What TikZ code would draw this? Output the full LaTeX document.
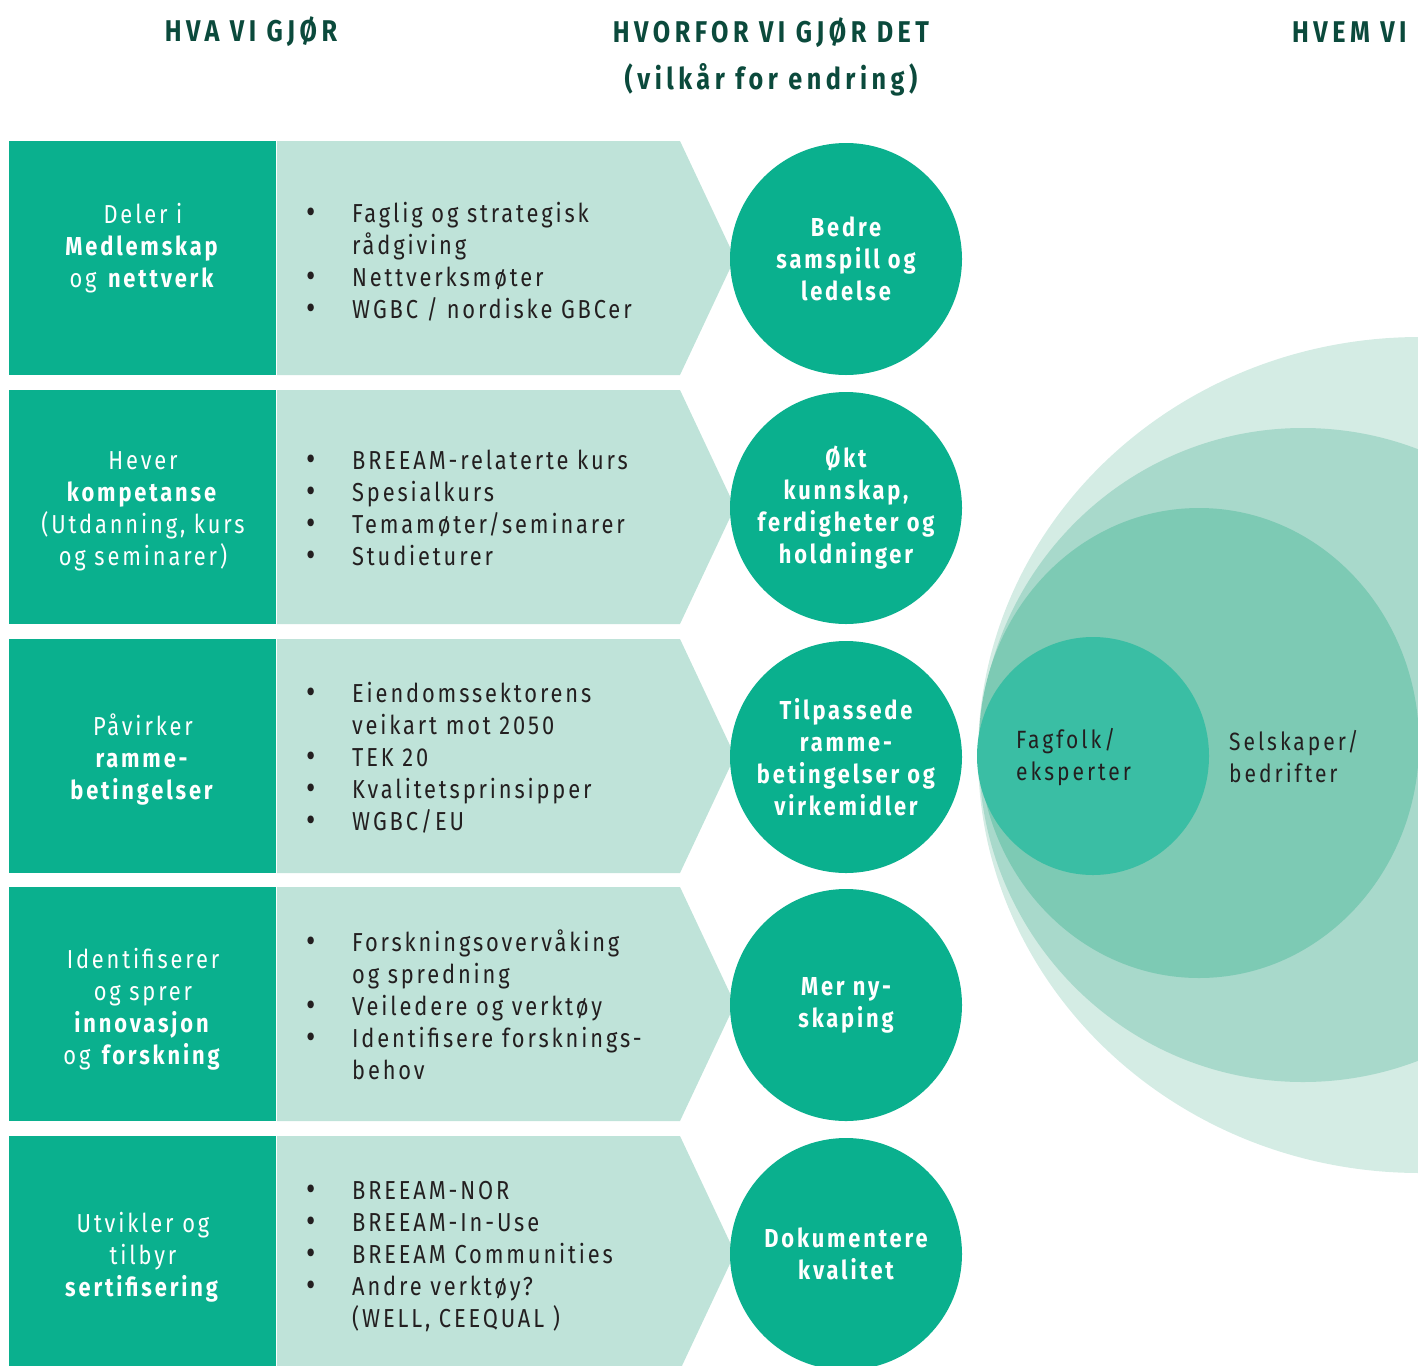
\documentclass[tikz,border=0pt]{standalone}
\usepackage{fontspec}
\setmainfont{Fira Sans}[FakeStretch=0.84,LetterSpace=11]
\definecolor{gbcmork}{HTML}{0AB08E}
\definecolor{gbclys}{HTML}{BFE3D9}
\definecolor{gbctittel}{HTML}{0B4A3C}
\definecolor{gbctekst}{HTML}{231F20}
\definecolor{sirkela}{HTML}{D4ECE4}
\definecolor{sirkelb}{HTML}{A8D9CB}
\definecolor{sirkelc}{HTML}{7DCAB4}
\definecolor{sirkeld}{HTML}{3ABEA4}
\tikzset{
  overskrift/.style={text=gbctittel, font=\fontsize{30}{47}\selectfont\bfseries\addfontfeature{LetterSpace=15}, align=center, inner sep=0pt},
  boksetekst/.style={text=white, font=\fontsize{26}{32}\selectfont, align=center, inner sep=0pt},
  listetekst/.style={text=gbctekst, font=\fontsize{26}{32}\selectfont, anchor=west, inner sep=0pt},
  vilkaar/.style={circle, fill=gbcmork, minimum size=232pt, inner sep=0pt, text=white, font=\fontsize{26}{32}\selectfont\bfseries, align=center},
  hvemtekst/.style={text=gbctekst, font=\fontsize{25}{32}\selectfont\addfontfeature{LetterSpace=12}, align=left, anchor=west, inner sep=0pt}
}
\newcommand{\pkt}{\makebox[46pt][l]{\raisebox{-1pt}{\fontsize{34}{32}\selectfont•}}}

\begin{document}
\begin{tikzpicture}[x=1pt,y=-1pt]
			%%%%% START %%%%%
			\def\h{234}
			\def\ya{141}
			\def\yb{390}
			\def\yc{639}
			\def\yd{887}
			\def\ye{1136}
			\def\xv{846}

			\useasboundingbox (0,0) rectangle (1418,1365);
			\clip (0,0) rectangle (1418,1365);

			% overskrifter
			\node[overskrift] (hva) at (251,32) {HVA VI GJØR};
			\node[overskrift] (hvorfor) at (771,57) {HVORFOR VI GJØR DET\\(vilkår for endring)};
			\node[overskrift, anchor=west] (hvem) at (1292,32) {HVEM VI};

			% hvem vi paavirker
			\fill[sirkela] (1420,755) ellipse (442pt and 418pt);
			\fill[sirkelb] (1303,755) ellipse (324pt and 327pt);
			\fill[sirkelc] (1199,743) ellipse (220pt and 235pt);
			\fill[sirkeld] (1093,756) ellipse (116pt and 119pt);
			\node[hvemtekst] (fagfolk) at (1016,757) {Fagfolk/\\eksperter};
			\node[hvemtekst] (selskaper) at (1229,757) {Selskaper/\\bedrifter};

			% rad 1
			\fill[gbcmork] (9,\ya) rectangle (276,\ya+\h);
			\fill[gbclys] (277,\ya) -- (680,\ya) -- (735,\ya+117) -- (680,\ya+\h) -- (277,\ya+\h) -- cycle;
			\node[boksetekst] (hva1) at (143,\ya+107) {Deler i\\\textbf{Medlemskap}\\og \textbf{nettverk}};
			\node[listetekst] (liste1) at (306,\ya+123) {\begin{tabular}{@{}l@{}l@{}}
				\pkt & Faglig og strategisk\\ & rådgiving\\ \pkt & Nettverksmøter\\ \pkt & WGBC / nordiske GBCer\end{tabular}};
			\node[vilkaar] (v1) at (\xv,\ya+118) {Bedre\\samspill og\\ledelse};

			% rad 2
			\fill[gbcmork] (9,\yb) rectangle (276,\yb+\h);
			\fill[gbclys] (277,\yb) -- (680,\yb) -- (735,\yb+117) -- (680,\yb+\h) -- (277,\yb+\h) -- cycle;
			\node[boksetekst] (hva2) at (143,\yb+121) {Hever\\\textbf{kompetanse}\\(Utdanning, kurs\\og seminarer)};
			\node[listetekst] (liste2) at (306,\yb+121) {\begin{tabular}{@{}l@{}l@{}}
				\pkt & BREEAM-relaterte kurs\\ \pkt & Spesialkurs\\ \pkt & Temamøter/seminarer\\ \pkt & Studieturer\end{tabular}};
			\node[vilkaar] (v2) at (\xv,\yb+118) {Økt\\kunnskap,\\ferdigheter og\\holdninger};

			% rad 3
			\fill[gbcmork] (9,\yc) rectangle (276,\yc+\h);
			\fill[gbclys] (277,\yc) -- (680,\yc) -- (735,\yc+117) -- (680,\yc+\h) -- (277,\yc+\h) -- cycle;
			\node[boksetekst] (hva3) at (143,\yc+121) {Påvirker\\\textbf{ramme-}\\\textbf{betingelser}};
			\node[listetekst] (liste3) at (306,\yc+121) {\begin{tabular}{@{}l@{}l@{}}
				\pkt & Eiendomssektorens\\ & veikart mot 2050\\ \pkt & TEK 20\\ \pkt & Kvalitetsprinsipper\\ \pkt & WGBC/EU\end{tabular}};
			\node[vilkaar] (v3) at (\xv,\yc+118) {Tilpassede\\ramme-\\betingelser og\\virkemidler};

			% rad 4
			\fill[gbcmork] (9,\yd) rectangle (276,\yd+\h);
			\fill[gbclys] (277,\yd) -- (680,\yd) -- (735,\yd+117) -- (680,\yd+\h) -- (277,\yd+\h) -- cycle;
			\node[boksetekst] (hva4) at (143,\yd+122) {Identifiserer\\og sprer\\\textbf{innovasjon}\\og \textbf{forskning}};
			\node[listetekst] (liste4) at (306,\yd+122) {\begin{tabular}{@{}l@{}l@{}}
				\pkt & Forskningsovervåking\\ & og spredning\\ \pkt & Veiledere og verktøy\\ \pkt & Identifisere forsknings-\\ & behov\end{tabular}};
			\node[vilkaar] (v4) at (\xv,\yd+118) {Mer ny-\\skaping};

			% rad 5
			\fill[gbcmork] (9,\ye) rectangle (276,\ye+\h);
			\fill[gbclys] (277,\ye) -- (680,\ye) -- (735,\ye+117) -- (680,\ye+\h) -- (277,\ye+\h) -- cycle;
			\node[boksetekst] (hva5) at (143,\ye+121) {Utvikler og\\tilbyr\\\textbf{sertifisering}};
			\node[listetekst] (liste5) at (306,\ye+121) {\begin{tabular}{@{}l@{}l@{}}
				\pkt & BREEAM-NOR\\ \pkt & BREEAM-In-Use\\ \pkt & BREEAM Communities\\ \pkt & Andre verktøy?\\ & (WELL, CEEQUAL )\end{tabular}};
			\node[vilkaar] (v5) at (\xv,\ye+118) {Dokumentere\\kvalitet};
			%%%%% END %%%%%
\end{tikzpicture}
\end{document}
